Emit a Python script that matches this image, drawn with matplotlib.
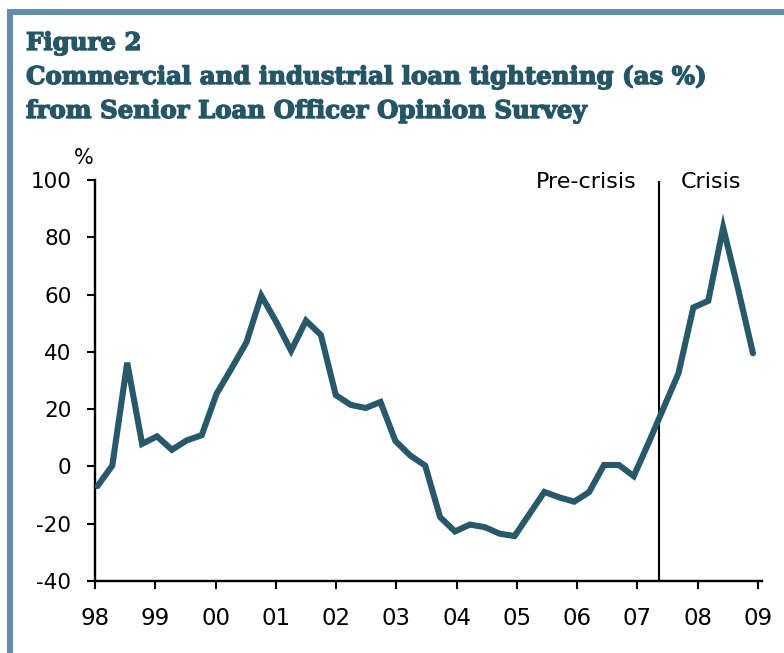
import numpy as np
import matplotlib
matplotlib.use("Agg")
import matplotlib.pyplot as plt
from matplotlib.patches import Rectangle
import matplotlib.patheffects as pe

# ---- data ----
values = [-6.9, 0.3, 36.2, 7.9, 10.5, 5.8, 9.1, 10.9,
          25.4, 34.2, 43.3, 59.6, 50.5, 40.4, 50.9, 45.9,
          24.9, 21.5, 20.4, 22.5, 8.9, 3.8, 0.3, -17.7,
          -22.7, -20.3, -21.2, -23.5, -24.3, -16.6, -8.9, -10.8,
          -12.3, -9.0, 0.5, 0.5, -3.4, 8.3, 20.4, 32.5,
          55.5, 57.8, 83.4, 62.0, 39.5]
first_date = 1998.04
last_date = 2008.92
crisis_date = 2007.36
tick_years = list(range(1998, 2010))
tick_labels = ["98", "99", "00", "01", "02", "03", "04", "05", "06", "07", "08", "09"]
y_ticks = [-40, -20, 0, 20, 40, 60, 80, 100]

dates = np.linspace(first_date, last_date, len(values))

W, H = 784, 653
fig = plt.figure(figsize=(W / 100, H / 100), dpi=100)

def fx(px):
    return px / W

def fy(py):
    return 1 - py / H

frame_col = "#668da8"
title_col = "#245666"
line_col = "#27596a"

# frame bars
fig.add_artist(Rectangle((fx(7), fy(15)), fx(777), 6 / H, transform=fig.transFigure,
                         color=frame_col, lw=0))
fig.add_artist(Rectangle((fx(7), 0), 6 / W, fy(9), transform=fig.transFigure,
                         color=frame_col, lw=0))

# titles
tfont = dict(family="DejaVu Serif", weight="bold",
             color=title_col, fontsize=17.6, va="baseline", ha="left",
             path_effects=[pe.withStroke(linewidth=1.0, foreground=title_col)])
fig.text(fx(26), fy(50), "Figure 2", **tfont)
fig.text(fx(26), fy(84), "Commercial and industrial loan tightening (as %)", **tfont)
fig.text(fx(26), fy(118), "from Senior Loan Officer Opinion Survey", **tfont)

ax = fig.add_axes([fx(95), fy(581), fx(762 - 95), (581 - 180) / H])
ax.plot(dates, values, color=line_col, lw=4.4, solid_capstyle="round",
        solid_joinstyle="miter", zorder=3)
ax.vlines(crisis_date, -40, 99.5, color="black", lw=1.5, zorder=2)

ax.set_xlim(1998, 2009.07)
ax.set_ylim(-40, 100)
ax.set_xticks(tick_years)
ax.set_xticklabels(tick_labels, fontsize=16.5, family="DejaVu Sans")
ax.set_yticks(y_ticks)
ax.set_yticklabels([str(v) for v in y_ticks], fontsize=15.5, family="DejaVu Sans")
ax.tick_params(axis="x", direction="out", length=6, width=1.5, pad=13)
ax.tick_params(axis="y", direction="out", length=6, width=1.5, pad=11)
for s in ["top", "right"]:
    ax.spines[s].set_visible(False)
for s in ["left", "bottom"]:
    ax.spines[s].set_linewidth(1.7)
ax.patch.set_visible(False)

fig.text(fx(84), fy(164), "%", fontsize=15, ha="center", va="baseline")
fig.text(fx(637), fy(188), "Pre-crisis", fontsize=16, ha="right", va="baseline")
fig.text(fx(681), fy(188), "Crisis", fontsize=16, ha="left", va="baseline")

fig.savefig("out.png", dpi=100)
